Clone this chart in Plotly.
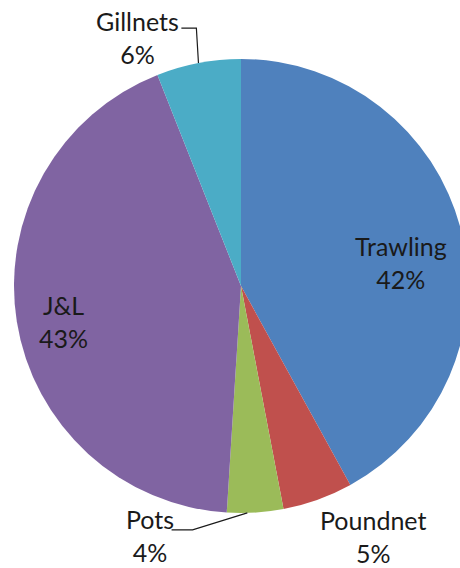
import math
import plotly.graph_objects as go

# Share of catch by fishing gear (%)
gears = ["Trawling", "Poundnet", "Pots", "J&L", "Gillnets"]
shares = [42, 5, 4, 43, 6]
colors = ["#4F81BD", "#C0504D", "#9BBB59", "#8064A2", "#4BACC6"]

W, H = 470, 568
CX, CY, R = 241, 286, 227          # pie centre / radius in pixels (from top-left)

# label placement: (angle nudge in degrees, radius as a fraction of R)
placement = {
    "Trawling": (5.9, 0.713),
    "Poundnet": (-7.9, 1.248),
    "Pots": (23.7, 1.172),
    "J&L": (-2.2, 0.797),
    "Gillnets": (-11.8, 1.188),
}

FONT = dict(family="Lato, Carlito, Calibri, sans-serif", size=25, color="#1a1a1a")


def to_paper(px, py):
    return px / W, 1 - py / H


def polar(angle_deg, rfrac):
    a = math.radians(angle_deg)
    return CX + R * rfrac * math.sin(a), CY - R * rfrac * math.cos(a)


fig = go.Figure(
    go.Pie(
        labels=gears,
        values=shares,
        sort=False,
        direction="clockwise",
        rotation=0,
        marker=dict(colors=colors, line=dict(width=0)),
        textinfo="none",
        hoverinfo="label+percent",
        showlegend=False,
        domain=dict(x=[(CX - R) / W, (CX + R) / W],
                    y=[(H - CY - R) / H, (H - CY + R) / H]),
    )
)

total = sum(shares)
annotations, shapes = [], []
cum = 0.0
mids = {}
for g, v in zip(gears, shares):
    start = cum / total * 360
    cum += v
    end = cum / total * 360
    mid = (start + end) / 2
    mids[g] = mid
    nudge, rf = placement[g]
    lx, ly = polar(mid + nudge, rf)
    x, y = to_paper(lx, ly)
    annotations.append(dict(
        x=x, y=y, xref="paper", yref="paper",
        text=f"{g}<br>{round(v / total * 100)}%",
        showarrow=False, font=FONT, align="center",
        xanchor="center", yanchor="middle",
    ))


def leader(g, pts):
    """Connector from the slice edge to points given relative to the label centre."""
    nudge, rf = placement[g]
    lx, ly = polar(mids[g] + nudge, rf)
    ex, ey = polar(mids[g] + (2 if g == "Pots" else 0), 1.0)
    path_pts = [(ex, ey)] + [(lx + dx, ly + dy) for dx, dy in pts]
    d = "M " + " L ".join(
        f"{to_paper(px, py)[0]},{to_paper(px, py)[1]}" for px, py in path_pts)
    shapes.append(dict(type="path", path=d, xref="paper", yref="paper",
                       line=dict(color="#1a1a1a", width=1.2)))


leader("Gillnets", [(59, -9), (44, -9)])
leader("Pots", [(43, -6), (22, -6)])

fig.update_layout(
    width=W, height=H,
    margin=dict(l=0, r=0, t=0, b=0),
    paper_bgcolor="white",
    plot_bgcolor="white",
    annotations=annotations,
    shapes=shapes,
)

fig.write_html("out.html",
               post_script="document.body.style.overflow='hidden';"
                           "document.documentElement.style.overflow='hidden';")
